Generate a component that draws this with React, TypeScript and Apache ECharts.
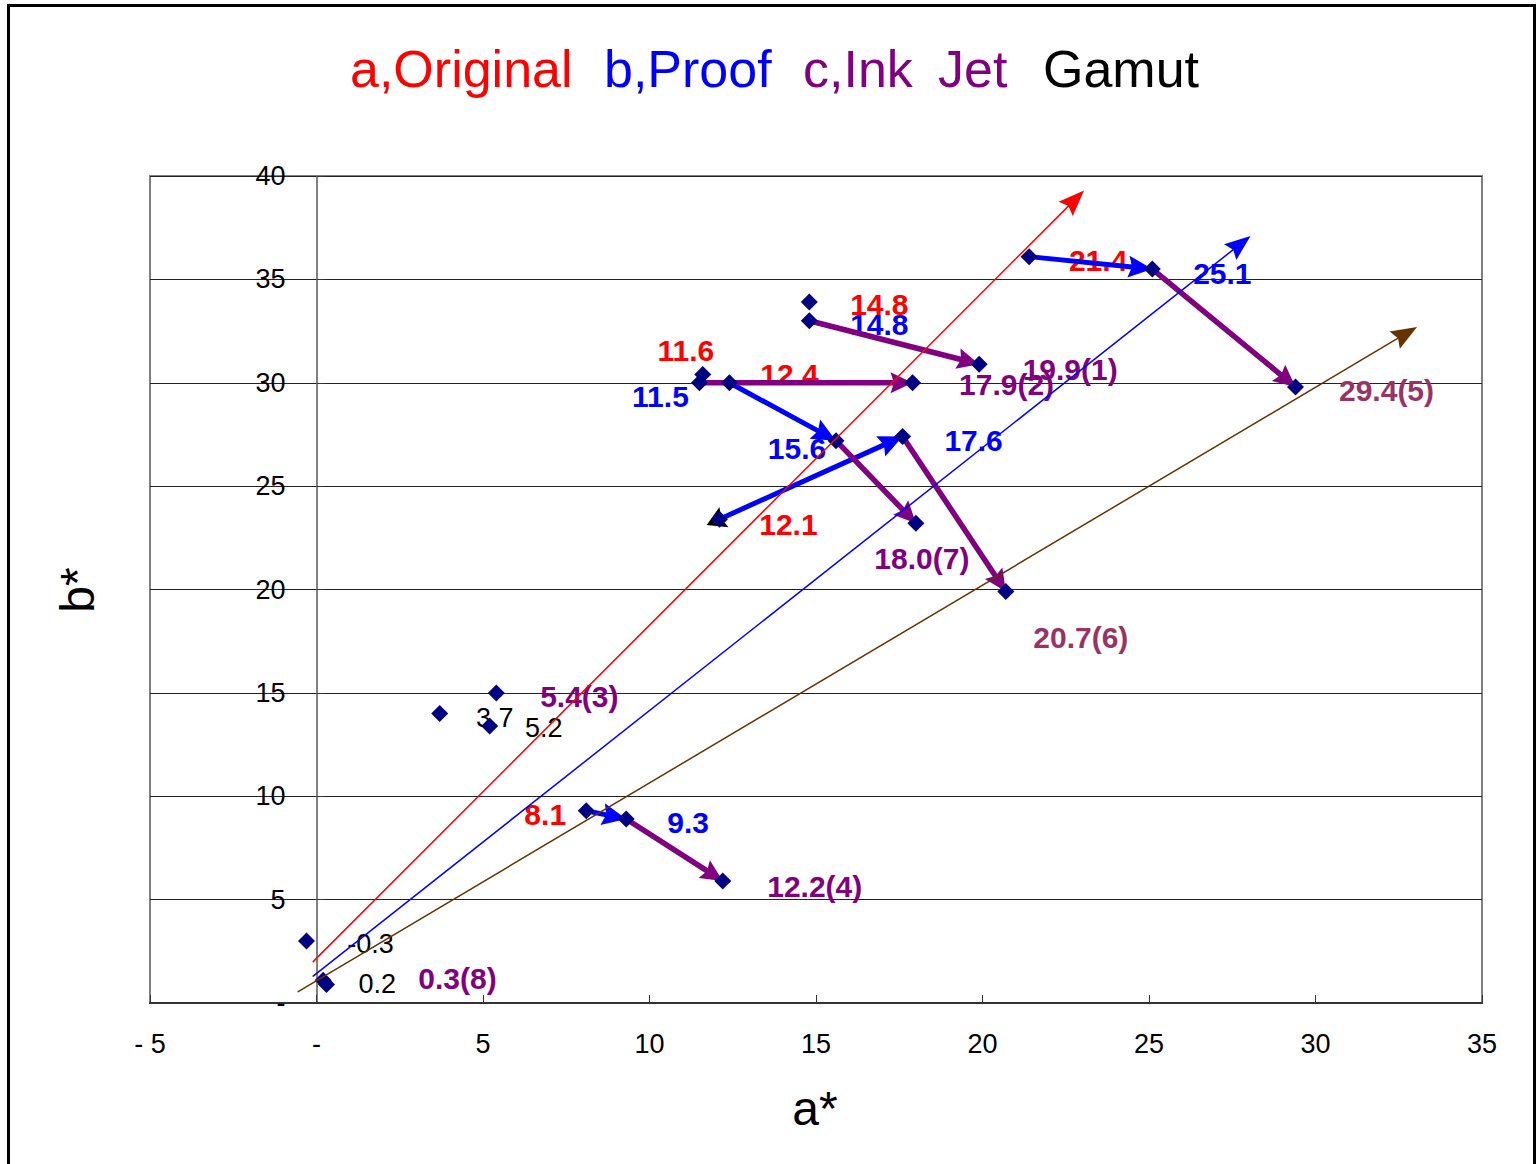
import { useEffect, useRef } from 'react';
import * as echarts from 'echarts';

// ---------------- DATA ----------------
const GROUP_NUMBERS = [1, 2, 3, 4, 5, 6, 7, 8];
// a) Original
const ORIGINAL_A = [14.8, 11.6, 3.7, 8.1, 21.4, 12.1, 12.4, -0.3];
const ORIGINAL_B = [33.9, 30.4, 14.0, 9.3, 36.1, 23.4, 30.0, 3.0];
// b) Proof
const PROOF_A = [14.8, 11.5, 5.2, 9.3, 25.1, 17.6, 15.6, 0.2];
const PROOF_B = [33.0, 30.0, 13.4, 8.9, 35.5, 27.4, 27.2, 1.1];
// c) Ink Jet
const INK_A = [19.9, 17.9, 5.4, 12.2, 29.4, 20.7, 18.0, 0.3];
const INK_B = [30.9, 30.0, 15.0, 5.9, 29.8, 19.9, 23.2, 0.9];

// arrows (0-based group indices)
const ORIGINAL_TO_PROOF_GROUPS = [3, 4, 5, 6];
const PROOF_TO_INK_GROUPS = [0, 1, 3, 4, 5, 6];
const BACK_HEAD_GROUPS = [5];

// gamut direction lines [start, end]
const GAMUT_ORIGINAL = [[-0.1, 2.0], [23.05, 39.3]];
const GAMUT_PROOF = [[-0.1, 1.3], [28.05, 37.1]];
const GAMUT_INKJET = [[-0.55, 0.55], [33.05, 32.7]];

const X_TICK_VALUES = [-5, 0, 5, 10, 15, 20, 25, 30, 35];
const X_TICK_LABELS = ['- 5', '-', '5', '10', '15', '20', '25', '30', '35'];
const Y_TICK_VALUES = [0, 5, 10, 15, 20, 25, 30, 35, 40];
const Y_TICK_LABELS = ['-', '5', '10', '15', '20', '25', '30', '35', '40'];

// ---------------- LAYOUT / STYLE ----------------
const FONT = '"Liberation Sans", Arial, Helvetica, sans-serif';
const RED = '#FF0000';
const BLUE = '#0000FF';
const PURPLE = '#800080';
const MAUVE = '#993366';
const NAVY = '#000080';
const BROWN = '#663300';

const ORIGINAL_LABEL_OFFSETS = [[70, 2], [-17, -24], [55, 4], [-41, 4], [69, 4], [69, 5], [60, -8], [64, 3]];
const PROOF_LABEL_OFFSETS = [[70, 4], [-39, 14], [54, 2], [62, 4], [70, 4], [71, 4], [-39, 8], [54, 4]];
const INK_LABEL_OFFSETS = [[91, 5], [94, 2], [83, 4], [92, 5], [91, 4], [75, 46], [6, 35], [131, -6]];
const ORIGINAL_LABEL_COLORS = [RED, RED, '#000', RED, RED, RED, RED, '#000'];
const PROOF_LABEL_COLORS = [BLUE, BLUE, '#000', BLUE, BLUE, BLUE, BLUE, '#000'];
const INK_LABEL_COLORS = [PURPLE, PURPLE, PURPLE, PURPLE, MAUVE, MAUVE, PURPLE, PURPLE];
const GAMUT_COLORS = [RED, BLUE, BROWN];

function arrowShapes(
  p1: number[], p2: number[], color: string, lineWidth: number,
  headLen: number, headHalf: number, backHead: string | null
) {
  const dx = p2[0] - p1[0];
  const dy = p2[1] - p1[1];
  const len = Math.hypot(dx, dy) || 1;
  const ux = dx / len;
  const uy = dy / len;
  const nx = -uy;
  const ny = ux;
  const bx = p2[0] - ux * headLen;
  const by = p2[1] - uy * headLen;
  const cx = p2[0] - ux * headLen * 0.85;
  const cy = p2[1] - uy * headLen * 0.85;
  const children: any[] = [
    {
      type: 'line',
      shape: { x1: p1[0], y1: p1[1], x2: cx, y2: cy },
      style: { stroke: color, lineWidth, lineCap: 'round' },
    },
    {
      type: 'polygon',
      shape: { points: [[p2[0], p2[1]], [bx + nx * headHalf, by + ny * headHalf], [cx, cy], [bx - nx * headHalf, by - ny * headHalf]] },
      style: { fill: color },
    },
  ];
  if (backHead) {
    const tx = p1[0] - ux * 14;
    const ty = p1[1] - uy * 14;
    const b2x = p1[0] + ux * 5;
    const b2y = p1[1] + uy * 5;
    const c2x = p1[0] + ux * 2;
    const c2y = p1[1] + uy * 2;
    children.push({
      type: 'polygon',
      shape: { points: [[tx, ty], [b2x + nx * 11, b2y + ny * 11], [c2x, c2y], [b2x - nx * 11, b2y - ny * 11]] },
      style: { fill: backHead },
    });
  }
  return { type: 'group', children };
}

export default function App() {
  const ref = useRef<HTMLDivElement>(null);

  useEffect(() => {
    if (!ref.current) return;
    const chart = echarts.init(ref.current, undefined, { renderer: 'svg' });

    const diamonds: number[][] = [];
    const labelItems: any[] = [];
    GROUP_NUMBERS.forEach((g, i) => {
      diamonds.push([ORIGINAL_A[i], ORIGINAL_B[i]]);
      diamonds.push([PROOF_A[i], PROOF_B[i]]);
      diamonds.push([INK_A[i], INK_B[i]]);
      const black = ORIGINAL_LABEL_COLORS[i] === '#000';
      labelItems.push({
        value: [ORIGINAL_A[i], ORIGINAL_B[i]],
        label: {
          formatter: ORIGINAL_A[i].toFixed(1),
          offset: ORIGINAL_LABEL_OFFSETS[i],
          color: ORIGINAL_LABEL_COLORS[i],
          fontWeight: black ? 'normal' : 'bold',
          fontSize: black ? 27 : 30,
        },
      });
      labelItems.push({
        value: [PROOF_A[i], PROOF_B[i]],
        label: {
          formatter: PROOF_A[i].toFixed(1),
          offset: PROOF_LABEL_OFFSETS[i],
          color: PROOF_LABEL_COLORS[i],
          fontWeight: black ? 'normal' : 'bold',
          fontSize: black ? 27 : 30,
        },
      });
      labelItems.push({
        value: [INK_A[i], INK_B[i]],
        label: {
          formatter: INK_A[i].toFixed(1) + '(' + g + ')',
          offset: INK_LABEL_OFFSETS[i],
          color: INK_LABEL_COLORS[i],
          fontWeight: 'bold',
          fontSize: 30,
        },
      });
    });

    const proofArrows = ORIGINAL_TO_PROOF_GROUPS.map((i) => [
      ORIGINAL_A[i], ORIGINAL_B[i], PROOF_A[i], PROOF_B[i], BACK_HEAD_GROUPS.indexOf(i) >= 0 ? 1 : 0,
    ]);
    const inkArrows = PROOF_TO_INK_GROUPS.map((i) => [PROOF_A[i], PROOF_B[i], INK_A[i], INK_B[i], 0]);
    const gamutLines = [GAMUT_ORIGINAL, GAMUT_PROOF, GAMUT_INKJET].map((l) => [l[0][0], l[0][1], l[1][0], l[1][1], 0]);

    const arrowSeries = (name: string, data: number[][], color: string, width: number, hl: number, hh: number, z: number, colors?: string[]) => ({
      type: 'custom',
      name,
      z,
      silent: true,
      coordinateSystem: 'cartesian2d',
      dimensions: ['x1', 'y1', 'x2', 'y2', 'back'],
      encode: { x: [0, 2], y: [1, 3] },
      data,
      renderItem: (params: any, api: any) => {
        const p1 = api.coord([api.value(0), api.value(1)]);
        const p2 = api.coord([api.value(2), api.value(3)]);
        const c = colors ? colors[params.dataIndex] : color;
        return arrowShapes(p1, p2, c, width, hl, hh, api.value(4) ? '#000' : null);
      },
    });

    const titleFont = '52px ' + FONT;

    const option: any = {
      animation: false,
      backgroundColor: '#fff',
      textStyle: { fontFamily: FONT },
      grid: {
        left: 150,
        top: 176,
        width: 1332,
        height: 827,
        show: true,
        borderColor: '#808080',
        borderWidth: 2,
        backgroundColor: 'transparent',
      },
      xAxis: {
        type: 'value',
        min: -5,
        max: 35,
        interval: 5,
        position: 'bottom',
        axisLine: { show: true, onZero: false, lineStyle: { color: '#333', width: 2 } },
        axisTick: { show: true, inside: true, length: 8, lineStyle: { color: '#333', width: 1 } },
        axisLabel: {
          color: '#000',
          fontSize: 27,
          fontFamily: FONT,
          margin: 27,
          formatter: (v: number) => {
            const k = X_TICK_VALUES.indexOf(v);
            return k >= 0 ? X_TICK_LABELS[k] : '';
          },
        },
        splitLine: { show: false },
      },
      yAxis: {
        type: 'value',
        min: 0,
        max: 40,
        interval: 5,
        position: 'left',
        offset: -166.5,
        axisLine: { show: true, onZero: false, lineStyle: { color: '#808080', width: 2 } },
        axisTick: { show: true, inside: true, length: 8, lineStyle: { color: '#333', width: 1 } },
        axisLabel: {
          color: '#000',
          fontSize: 27,
          fontFamily: FONT,
          margin: 31,
          formatter: (v: number) => {
            const k = Y_TICK_VALUES.indexOf(v);
            return k >= 0 ? Y_TICK_LABELS[k] : '';
          },
        },
        splitLine: { show: true, lineStyle: { color: '#222', width: 1 } },
      },
      graphic: [
        {
          type: 'rect',
          silent: true,
          shape: { x: 8.5, y: 5.5, width: 1526, height: 1200 },
          style: { fill: 'none', stroke: '#000', lineWidth: 3 },
        },
        { type: 'text', left: 350, top: 43, style: { text: 'a,Original', fill: RED, font: titleFont } },
        { type: 'text', left: 604, top: 43, style: { text: 'b,Proof', fill: BLUE, font: titleFont } },
        { type: 'text', left: 803, top: 43, style: { text: 'c,Ink', fill: PURPLE, font: titleFont } },
        { type: 'text', left: 938, top: 43, style: { text: 'Jet', fill: PURPLE, font: titleFont } },
        { type: 'text', left: 1043, top: 43, style: { text: 'Gamut', fill: '#000', font: titleFont } },
        {
          type: 'text',
          x: 815,
          y: 1108,
          style: { text: 'a*', fill: '#000', font: '48px ' + FONT, textAlign: 'center', textVerticalAlign: 'middle' },
        },
        {
          type: 'text',
          x: 77,
          y: 590,
          rotation: Math.PI / 2,
          style: { text: 'b*', fill: '#000', font: '48px ' + FONT, textAlign: 'center', textVerticalAlign: 'middle' },
        },
      ],
      series: [
        {
          type: 'scatter',
          name: 'labels',
          z: 1,
          silent: true,
          symbol: 'circle',
          symbolSize: 0.1,
          itemStyle: { color: 'rgba(0,0,0,0)', opacity: 1 },
          label: { show: true, position: 'inside', fontFamily: FONT, opacity: 1 },
          data: labelItems,
        },
        arrowSeries('proof arrows', proofArrows, BLUE, 5, 24, 11, 3),
        arrowSeries('ink arrows', inkArrows, PURPLE, 5.5, 22, 10.5, 3),
        {
          type: 'scatter',
          name: 'points',
          z: 4,
          silent: true,
          symbol: 'diamond',
          symbolSize: 17,
          itemStyle: { color: NAVY, opacity: 1 },
          data: diamonds,
        },
        arrowSeries('gamut', gamutLines, RED, 1.5, 26, 10, 5, GAMUT_COLORS),
      ],
    };

    chart.setOption(option);
    return () => chart.dispose();
  }, []);

  return (
    <div
      ref={ref}
      style={{ position: 'absolute', left: 0, top: 0, width: 1537, height: 1164, background: '#fff' }}
    />
  );
}
